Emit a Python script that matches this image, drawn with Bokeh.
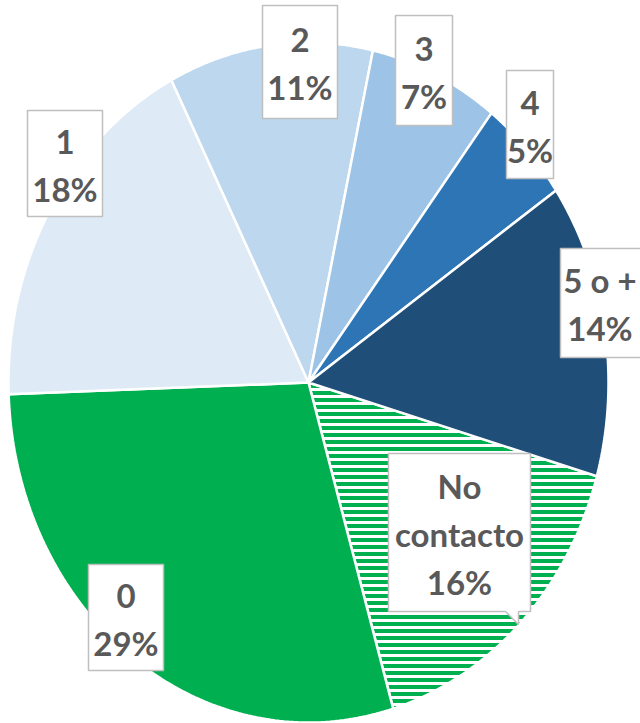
import numpy as np
from bokeh.plotting import figure
from bokeh.models import Range1d, ColumnDataSource
from bokeh.core.properties import value
from bokeh.embed import file_html
from bokeh.resources import INLINE

# ---- data (clockwise order) ----
categories = ["No contacto", "0", "1", "2", "3", "4", "5 o +"]
percents = [16, 29, 18, 11, 7, 5, 14]
colors = ["#00B050", "#00B050", "#DEEBF7", "#BDD7EE", "#9DC3E6", "#2E75B6", "#1F4E79"]
hatched = [True, False, False, False, False, False, False]

# ---- layout (pixel space, y downward) ----
W, H = 640, 723
CX, CY, RX, RY = 308, 382, 300, 340
START_DEG = 106.0  # angle (clockwise from 12 o'clock) where the first slice starts

# label boxes: (left, right, top, bottom)
label_boxes = {
    "No contacto": (388, 530, 453, 611),
    "0": (88, 163, 564, 670),
    "1": (27, 102, 110, 216),
    "2": (262, 337, 5, 118),
    "3": (395, 452, 15, 125),
    "4": (506, 553, 70, 178),
    "5 o +": (560, 645, 248, 357),
}
text_dx = {"5 o +": -3}

p = figure(width=W, height=H, output_backend="svg", toolbar_location=None,
           x_range=Range1d(0, W), y_range=Range1d(H, 0),
           min_border=0, min_border_left=0, min_border_right=0,
           min_border_top=0, min_border_bottom=0)
p.axis.visible = False
p.grid.visible = False
p.outline_line_color = None
p.background_fill_color = "white"
p.border_fill_color = "white"

total = float(sum(percents))
a0 = START_DEG
xs, ys = [], []
for pc in percents:
    a1 = a0 + 360.0 * pc / total
    t = np.radians(np.linspace(a0, a1, 120))
    px = np.concatenate([[CX], CX + RX * np.sin(t), [CX]])
    py = np.concatenate([[CY], CY - RY * np.cos(t), [CY]])
    xs.append(px.tolist())
    ys.append(py.tolist())
    a0 = a1

for i in range(len(categories)):
    if hatched[i]:
        p.patch(xs[i], ys[i], fill_color=colors[i], line_color="white", line_width=2.5,
                hatch_pattern="horizontal_line", hatch_color="white",
                hatch_weight=3, hatch_scale=7)
    else:
        p.patch(xs[i], ys[i], fill_color=colors[i], line_color="white", line_width=2.5)

# label boxes
for cat in categories:
    l, r, t, b = label_boxes[cat]
    if cat == "No contacto":
        bx = [l, r, r, 518, 518, 505, l]
        by = [t, t, b, b, 624, b, b]
        p.patch(bx, by, fill_color="white", line_color="#BFBFBF", line_width=1.5)
    else:
        p.quad(left=[l], right=[r], top=[t], bottom=[b], fill_color="white",
               line_color="#BFBFBF", line_width=1.5)

tx, ty, tt = [], [], []
for cat, pc in zip(categories, percents):
    l, r, t, b = label_boxes[cat]
    name = "No\ncontacto" if cat == "No contacto" else cat
    tx.append((l + r) / 2 + text_dx.get(cat, 0))
    ty.append((t + b) / 2 + 1)
    tt.append(f"{name}\n{pc}%")

src = ColumnDataSource(dict(x=tx, y=ty, text=tt))
p.text(x="x", y="y", text="text", source=src, text_font=value("Lato"),
       text_font_style="bold", text_font_size="33px", text_color="#595959",
       text_align="center", text_baseline="middle", text_line_height=1.2)

open("out.html", "w").write(file_html(p, INLINE))
